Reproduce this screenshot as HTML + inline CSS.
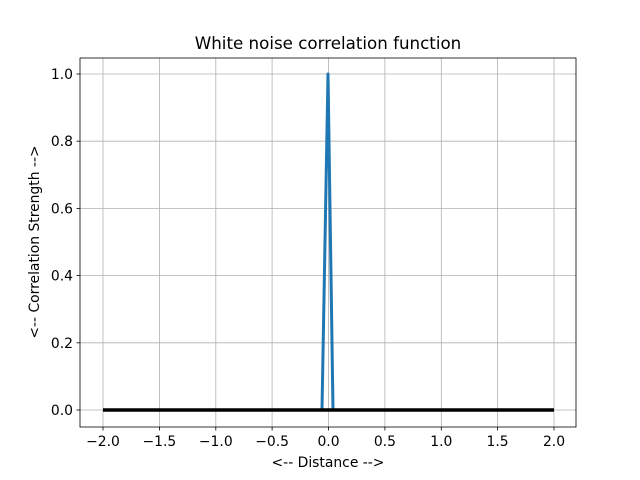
<!DOCTYPE html>
<html><head><style>body{margin:0;background:#fff}svg{display:block}</style></head><body>
<svg width="640" height="480" xmlns="http://www.w3.org/2000/svg" font-family="DejaVu Sans, Liberation Sans, sans-serif">
<rect width="640" height="480" fill="#fff"/>
<g stroke="#b0b0b0" stroke-width="0.8">
<line x1="103" y1="58" x2="103" y2="427"/><line x1="159.4" y1="58" x2="159.4" y2="427"/><line x1="215.8" y1="58" x2="215.8" y2="427"/><line x1="272.1" y1="58" x2="272.1" y2="427"/><line x1="328.5" y1="58" x2="328.5" y2="427"/><line x1="384.9" y1="58" x2="384.9" y2="427"/><line x1="441.3" y1="58" x2="441.3" y2="427"/><line x1="497.6" y1="58" x2="497.6" y2="427"/><line x1="554" y1="58" x2="554" y2="427"/>
<line x1="80" y1="410" x2="576" y2="410"/><line x1="80" y1="342.8" x2="576" y2="342.8"/><line x1="80" y1="275.6" x2="576" y2="275.6"/><line x1="80" y1="208.4" x2="576" y2="208.4"/><line x1="80" y1="141.2" x2="576" y2="141.2"/><line x1="80" y1="74" x2="576" y2="74"/>
</g>
<polyline points="103,410 322,410 328,74 333,410 554,410" fill="none" stroke="#1f77b4" stroke-width="3" stroke-linejoin="round"/>
<line x1="103" y1="410" x2="554" y2="410" stroke="#000" stroke-width="3.5"/>
<rect x="80" y="58" width="496" height="369" fill="none" stroke="#000" stroke-width="0.8"/>
<g stroke="#000" stroke-width="0.8">
<line x1="103" y1="427" x2="103" y2="430.5"/><line x1="159.4" y1="427" x2="159.4" y2="430.5"/><line x1="215.8" y1="427" x2="215.8" y2="430.5"/><line x1="272.1" y1="427" x2="272.1" y2="430.5"/><line x1="328.5" y1="427" x2="328.5" y2="430.5"/><line x1="384.9" y1="427" x2="384.9" y2="430.5"/><line x1="441.3" y1="427" x2="441.3" y2="430.5"/><line x1="497.6" y1="427" x2="497.6" y2="430.5"/><line x1="554" y1="427" x2="554" y2="430.5"/>
<line x1="76.5" y1="410" x2="80" y2="410"/><line x1="76.5" y1="342.8" x2="80" y2="342.8"/><line x1="76.5" y1="275.6" x2="80" y2="275.6"/><line x1="76.5" y1="208.4" x2="80" y2="208.4"/><line x1="76.5" y1="141.2" x2="80" y2="141.2"/><line x1="76.5" y1="74" x2="80" y2="74"/>
</g>
<g font-size="13.9" text-anchor="middle" fill="#000">
<text x="103" y="446">−2.0</text><text x="159.4" y="446">−1.5</text><text x="215.8" y="446">−1.0</text><text x="272.1" y="446">−0.5</text><text x="328.5" y="446">0.0</text><text x="384.9" y="446">0.5</text><text x="441.3" y="446">1.0</text><text x="497.6" y="446">1.5</text><text x="554" y="446">2.0</text>
</g>
<g font-size="13.9" text-anchor="end" fill="#000">
<text x="73" y="415">0.0</text><text x="73" y="347.8">0.2</text><text x="73" y="280.6">0.4</text><text x="73" y="213.4">0.6</text><text x="73" y="146.2">0.8</text><text x="73" y="79">1.0</text>
</g>
<text x="328" y="467" font-size="13.9" text-anchor="middle">&lt;-- Distance --&gt;</text>
<text transform="translate(39,242) rotate(-90)" font-size="13.9" text-anchor="middle">&lt;-- Correlation Strength --&gt;</text>
<text x="328" y="49" font-size="16.7" text-anchor="middle">White noise correlation function</text>
</svg>
</body></html>
